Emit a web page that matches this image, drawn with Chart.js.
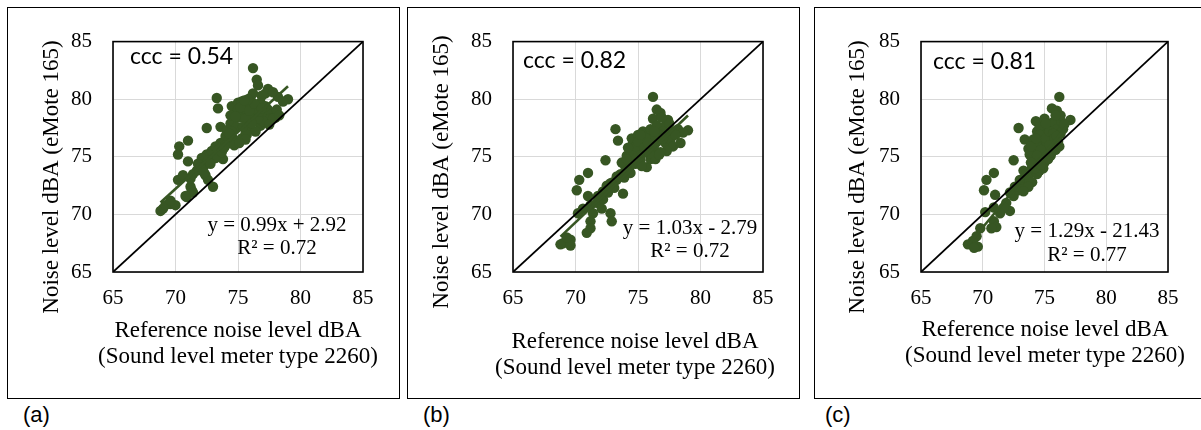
<!DOCTYPE html>
<html>
<head>
<meta charset="utf-8">
<script src="https://cdn.jsdelivr.net/npm/chart.js@4.4.1/dist/chart.umd.min.js"></script>
<style>
  body { margin: 0; background: #fff; width: 1201px; height: 430px; overflow: hidden; position: relative; }
  .box { position: absolute; box-sizing: border-box; border: 1px solid #000; }
  .cv { position: absolute; }
  .tag { position: absolute; font-family: 'Liberation Sans', Arial, sans-serif; font-size: 22px; line-height: 22px; color: #000; }
</style>
</head>
<body>
<div class="box" style="left:7px;top:7px;width:393px;height:392px;"></div>
<div class="box" style="left:407px;top:7px;width:393px;height:392px;"></div>
<div class="box" style="left:814px;top:7px;width:390px;height:392px;"></div>
<canvas id="chartA" class="cv" width="390" height="389" style="left:8px;top:8px;"></canvas>
<canvas id="chartB" class="cv" width="390" height="389" style="left:408px;top:8px;"></canvas>
<canvas id="chartC" class="cv" width="385" height="389" style="left:815px;top:8px;"></canvas>
<div class="tag" style="left:23px;top:404px;">(a)</div>
<div class="tag" style="left:423px;top:404px;">(b)</div>
<div class="tag" style="left:825px;top:404px;">(c)</div>
<script>
// tick values shared by both axes of every panel
const tickVals = [65, 70, 75, 80, 85];

// (a) reference meter vs eMote 165
const refA = [76.2, 76.5, 76.6, 77.4, 77.2, 78.2, 79.0, 78.6, 73.3, 73.4, 72.5, 71.0, 70.3, 70.2, 71.0, 70.2,
  69.0, 69.6, 68.8, 71.2, 71.3, 70.9, 71.2, 71.7, 72.2, 72.6, 73.0, 72.4, 72.5, 72.9, 73.2, 73.6,
  73.8, 74.0, 73.6, 74.1, 74.4, 74.6, 74.8, 74.5, 75.0, 75.3, 75.7, 75.4, 75.2, 75.8, 75.6, 76.0,
  76.2, 76.5, 76.8, 77.0, 77.4, 77.7, 78.0, 77.3, 76.8, 76.4, 77.6, 78.1, 76.0, 76.2, 74.9, 74.5,
  73.8, 73.4, 73.2, 73.7, 74.2, 74.6, 75.3, 75.7, 74.4, 75.0, 75.6, 77.0, 72.1, 71.8, 71.4, 70.6,
  71.4, 72.0, 72.6, 75.6, 77.8, 78.3, 69.2, 70.0, 69.6, 70.8, 74.8, 75.2, 75.9, 76.3, 76.6, 77.2,
  75.4, 74.3, 74.0, 76.9, 77.8, 75.8, 76.7, 77.5, 74.7, 73.9, 72.8, 72.3, 76.1, 75.1, 76.9, 75.5];
const moteA = [82.7, 81.7, 81.2, 80.9, 80.5, 80.2, 80.0, 79.8, 80.1, 79.2, 77.5, 76.4, 75.9, 75.2, 74.6, 73.0,
  70.5, 70.9, 70.3, 72.4, 72.1, 71.5, 73.1, 73.8, 74.0, 73.0, 72.4, 73.4, 75.2, 75.5, 75.9, 76.2,
  74.8, 76.8, 77.6, 77.3, 77.9, 78.1, 79.0, 79.4, 79.7, 79.8, 79.5, 78.8, 78.4, 78.0, 77.0, 77.4,
  78.6, 79.1, 79.7, 78.8, 79.1, 78.7, 78.4, 78.0, 77.7, 77.2, 78.3, 79.1, 80.1, 80.5, 77.6, 77.2,
  76.1, 75.6, 74.9, 75.4, 76.3, 76.6, 76.6, 76.9, 78.6, 79.1, 78.3, 78.1, 74.9, 74.4, 73.5, 73.4,
  71.9, 74.1, 74.7, 76.5, 78.3, 78.6, 70.8, 70.8, 71.2, 71.6, 78.5, 79.3, 79.0, 79.6, 78.3, 79.4,
  77.6, 77.0, 76.0, 80.3, 80.6, 80.0, 78.9, 77.8, 76.0, 75.8, 74.4, 73.6, 77.9, 76.2, 79.2, 79.9];

// (b)
const refB = [76.2, 76.5, 76.8, 76.2, 77.4, 77.2, 78.2, 79.0, 78.6, 73.2, 73.4, 72.4, 71.0, 70.3, 70.1, 71.0,
  70.2, 69.0, 69.6, 68.8, 71.2, 71.2, 70.9, 72.8, 72.9, 73.8, 71.2, 71.7, 72.2, 72.6, 73.0, 73.3,
  73.6, 74.0, 73.7, 74.1, 74.4, 74.6, 74.5, 75.0, 75.4, 75.8, 75.4, 75.0, 74.6, 75.2, 75.7, 76.0,
  76.2, 76.5, 76.9, 77.2, 77.6, 77.8, 77.3, 76.8, 76.4, 76.0, 76.5, 74.1, 74.5, 74.9, 73.3, 72.8,
  72.2, 71.8, 70.6, 72.1, 71.4, 77.6, 78.0, 75.7, 75.3, 76.1, 75.6, 74.8, 74.2, 69.6, 69.3, 77.0,
  78.4, 75.0, 75.5, 76.3, 76.7, 75.9, 74.8, 74.4, 75.2, 76.6, 77.0, 75.8, 74.1, 73.9, 76.3, 77.5,
  76.9, 75.3, 72.5, 73.1];
const moteB = [80.2, 79.1, 78.8, 78.3, 78.2, 77.7, 77.4, 77.3, 77.1, 77.4, 76.4, 74.7, 73.6, 73.0, 72.1, 71.6,
  70.1, 67.5, 67.8, 67.4, 69.4, 68.8, 68.4, 70.1, 69.4, 71.8, 70.8, 71.0, 71.3, 71.9, 72.8, 73.0,
  73.5, 74.1, 74.5, 75.1, 75.5, 76.2, 76.6, 76.9, 77.2, 76.9, 76.2, 75.6, 75.1, 74.7, 74.1, 74.8,
  75.6, 76.3, 76.9, 76.2, 76.5, 75.9, 75.5, 75.4, 74.8, 77.4, 77.7, 73.8, 74.4, 74.9, 73.3, 72.7,
  72.0, 71.6, 70.5, 70.5, 70.1, 77.3, 76.9, 75.6, 75.4, 76.5, 76.6, 75.9, 75.8, 67.3, 68.0, 77.2,
  76.2, 76.3, 75.8, 76.0, 75.2, 75.3, 74.4, 73.6, 76.9, 77.0, 76.6, 76.2, 74.8, 73.2, 77.2, 77.9,
  78.4, 74.2, 72.5, 72.3];

// (c)
const refC = [76.2, 75.6, 76.0, 77.1, 72.9, 74.3, 73.4, 73.7, 72.5, 70.9, 70.3, 70.1, 71.0, 70.2, 69.5, 69.2,
  68.8, 69.8, 70.9, 71.1, 70.7, 72.2, 71.9, 72.5, 72.9, 73.3, 73.6, 73.8, 74.0, 74.2, 74.5, 74.6,
  74.8, 74.9, 75.0, 75.3, 75.7, 76.0, 76.3, 76.1, 75.9, 75.5, 75.0, 74.9, 74.4, 74.0, 73.7, 73.3,
  75.2, 75.5, 74.4, 74.6, 74.1, 74.2, 73.8, 74.6, 71.7, 71.4, 70.9, 76.4, 76.3, 75.9, 75.0, 76.5,
  75.6, 75.2, 74.8, 73.3, 73.0, 72.6, 72.2, 69.6, 69.3, 74.6, 75.1, 75.4, 75.7, 75.8, 75.4, 74.7,
  74.4, 74.2, 75.3, 75.6, 76.0, 76.2, 73.9, 73.5, 74.7, 75.1, 76.6, 73.9, 74.3];
const moteC = [80.2, 79.2, 79.0, 78.2, 77.5, 78.1, 76.5, 75.7, 74.7, 73.6, 73.0, 72.1, 71.7, 70.2, 68.1, 67.7,
  67.4, 68.8, 69.4, 68.9, 68.8, 70.3, 71.0, 71.6, 72.1, 72.7, 73.1, 73.5, 74.1, 74.5, 74.9, 75.5,
  76.1, 76.6, 77.2, 77.6, 78.0, 77.4, 77.0, 76.3, 75.6, 75.1, 74.5, 74.0, 73.5, 72.8, 72.4, 72.0,
  76.2, 76.8, 77.2, 77.6, 76.5, 75.8, 75.2, 73.8, 70.6, 70.1, 70.6, 78.0, 78.6, 78.6, 78.3, 77.4,
  76.1, 75.5, 75.1, 73.8, 73.0, 72.4, 71.9, 67.2, 67.1, 76.9, 76.6, 77.2, 77.0, 76.6, 76.0, 75.6,
  75.1, 74.0, 74.8, 75.4, 76.8, 75.9, 74.5, 73.5, 74.3, 77.9, 77.8, 75.9, 76.6];

// fitted trend lines and agreement figures, as printed on the chart
const slopes = [0.99, 1.03, 1.29];
const intercepts = [2.92, -2.79, -21.43];
const eqTexts = ['y = 0.99x + 2.92', 'y = 1.03x - 2.79', 'y = 1.29x - 21.43'];
const r2Texts = ['R\u00b2 = 0.72', 'R\u00b2 = 0.72', 'R\u00b2 = 0.77'];
const cccTexts = ['ccc = 0.54', 'ccc = 0.82', 'ccc = 0.81'];

const GREEN = '#375623';
const SERIF = "'Liberation Serif', 'Times New Roman', serif";

// layout per panel, in canvas pixels
const layouts = [
  { yw: 105, xh: 125, top: 25, right: 35, yt: [44, 169], xt: [230, 323, 349], ccc: [122, 49], eq: [269, 217, 240] },
  { yw: 105, xh: 125, top: 25, right: 35, yt: [34, 164], xt: [227, 334, 360], ccc: [115, 53], eq: [282, 220, 243] },
  { yw: 106, xh: 125, top: 25, right: 32, yt: [43, 169], xt: [230, 322, 348], ccc: [118, 54], eq: [272, 223, 247] }
];

Chart.defaults.font.family = SERIF;
Chart.defaults.color = '#000';

const textPlugin = {
  id: 'panelText',
  afterDraw(chart, args, o) {
    const ctx = chart.ctx;
    const ca = chart.chartArea;
    const L = o.layout;
    ctx.save();
    ctx.strokeStyle = '#000';
    ctx.lineWidth = 1.6;
    ctx.strokeRect(ca.left, ca.top, ca.right - ca.left, ca.bottom - ca.top);

    ctx.fillStyle = '#000';
    ctx.textBaseline = 'middle';
    ctx.textAlign = 'center';
    ctx.font = '23px ' + SERIF;
    ctx.save();
    ctx.translate(L.yt[0], L.yt[1]);
    ctx.rotate(-Math.PI / 2);
    ctx.fillText('Noise level dBA (eMote 165)', 0, 0);
    ctx.restore();
    ctx.fillText('Reference noise level dBA', L.xt[0], L.xt[1]);
    ctx.fillText('(Sound level meter type 2260)', L.xt[0], L.xt[2]);

    ctx.font = '21px ' + SERIF;
    ctx.fillText(o.eq, L.eq[0], L.eq[1]);
    ctx.fillText(o.r2, L.eq[0], L.eq[2]);

    ctx.textAlign = 'left';
    ctx.font = "23px Lato, 'Open Sans', sans-serif";
    ctx.fillText(o.ccc, L.ccc[0], L.ccc[1]);
    ctx.restore();
  }
};

function makePanel(id, i, xs, ys) {
  const L = layouts[i];
  const pts = xs.map((x, k) => ({ x: x, y: ys[k] }));
  const lo = Math.min(...xs), hi = Math.max(...xs);
  const trend = [lo, hi].map(x => ({ x: x, y: slopes[i] * x + intercepts[i] }));
  const axis = (fitFn) => ({
    type: 'linear', min: tickVals[0], max: tickVals[tickVals.length - 1],
    afterBuildTicks: s => { s.ticks = tickVals.map(v => ({ value: v })); },
    afterFit: fitFn,
    grid: { color: '#d9d9d9', lineWidth: 1, drawTicks: false },
    border: { display: false },
    ticks: { font: { size: 21, family: SERIF }, color: '#000', padding: 14 }
  });
  const xAxis = axis(s => { s.height = L.xh; });
  const yAxis = axis(s => { s.width = L.yw; });
  yAxis.ticks.padding = 21;

  new Chart(document.getElementById(id), {
    type: 'scatter',
    data: {
      datasets: [
        { data: [{ x: 65, y: 65 }, { x: 85, y: 85 }], showLine: true, borderColor: '#000', borderWidth: 1.8, pointRadius: 0, order: 1 },
        { data: trend, showLine: true, borderColor: GREEN, borderWidth: 2.6, pointRadius: 0, order: 2 },
        { data: pts, backgroundColor: GREEN, borderWidth: 0, pointRadius: 5.2, order: 3 }
      ]
    },
    options: {
      responsive: false,
      animation: false,
      layout: { padding: { top: L.top, right: L.right, left: 0, bottom: 0 } },
      plugins: {
        legend: { display: false },
        tooltip: { enabled: false },
        panelText: { layout: L, eq: eqTexts[i], r2: r2Texts[i], ccc: cccTexts[i] }
      },
      scales: { x: xAxis, y: yAxis }
    },
    plugins: [textPlugin]
  });
}

makePanel('chartA', 0, refA, moteA);
makePanel('chartB', 1, refB, moteB);
makePanel('chartC', 2, refC, moteC);
</script>
</body>
</html>
